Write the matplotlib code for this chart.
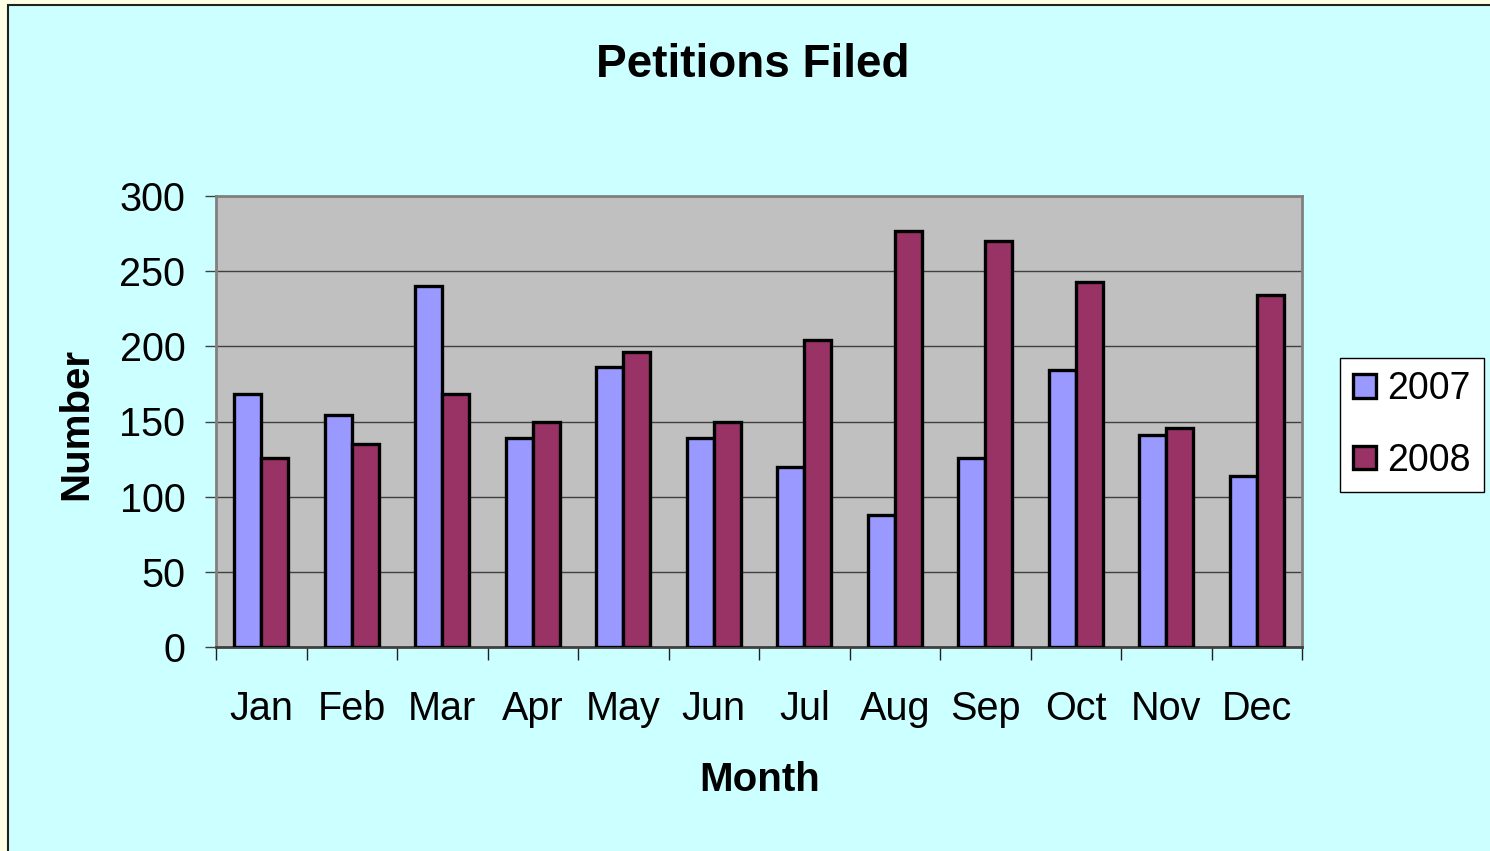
import matplotlib
matplotlib.use('Agg')
import matplotlib.pyplot as plt
import numpy as np
from matplotlib.patches import Rectangle

plt.rcParams['font.family'] = ['Liberation Sans', 'DejaVu Sans']

months = ['Jan', 'Feb', 'Mar', 'Apr', 'May', 'Jun', 'Jul', 'Aug', 'Sep', 'Oct', 'Nov', 'Dec']
petitions_2007 = [168, 154, 240, 139, 186, 139, 120, 88, 126, 184, 141, 114]
petitions_2008 = [126, 135, 168, 150, 196, 150, 204, 277, 270, 243, 146, 234]
yticks = [0, 50, 100, 150, 200, 250, 300]

W, H = 1490, 851
fig = plt.figure(figsize=(W / 100, H / 100), dpi=100)
fig.patch.set_facecolor('#FFFFE6')

# cyan chart area with dark border
fig.patches.append(Rectangle((8 / W, -0.01), 1.0, 1 - 5 / H + 0.01,
                             transform=fig.transFigure, facecolor='#CCFFFF',
                             edgecolor='#202020', linewidth=1.5, zorder=-5))

ax = fig.add_axes([216 / W, 1 - 647 / H, (1302 - 216) / W, (647 - 196) / H])
ax.set_facecolor('#C0C0C0')

x = np.arange(len(months))
w = 0.3
ax.bar(x - w / 2, petitions_2007, w, color='#9999FF', edgecolor='black',
       linewidth=2.4, label='2007', zorder=3)
ax.bar(x + w / 2, petitions_2008, w, color='#993366', edgecolor='black',
       linewidth=2.4, label='2008', zorder=3)

ax.set_xlim(-0.5, len(months) - 0.5)
ax.set_ylim(0, 300)
ax.set_yticks(yticks)
ax.yaxis.grid(True, color='#404040', linewidth=1, zorder=1)
ax.set_axisbelow(True)

ax.set_xticks(x)
ax.set_xticklabels(months, fontsize=28.5)
ax.set_xticks(np.arange(-0.5, len(months)), minor=True)
ax.tick_params(axis='x', which='major', length=0, pad=31)
ax.tick_params(axis='x', which='minor', length=9, width=1, color='#202020', direction='out')
ax.tick_params(axis='y', labelsize=28.5, length=8, width=1, color='#404040', pad=14)

for side in ['top', 'right', 'left', 'bottom']:
    ax.spines[side].set_color('#808080')
    ax.spines[side].set_linewidth(2)
ax.spines['bottom'].set_color('#404040')

fig.text(753 / W, 1 - 65 / H, 'Petitions Filed', fontsize=33, fontweight='bold',
         ha='center', va='center')
fig.text(760 / W, 1 - 780 / H, 'Month', fontsize=29, fontweight='bold',
         ha='center', va='center')
fig.text(76 / W, 1 - 424 / H, 'Number', fontsize=29, fontweight='bold',
         ha='center', va='center', rotation=90)

leg = fig.legend(loc='upper left', bbox_to_anchor=(1340 / W, 1 - 358 / H),
                 fontsize=27, handlelength=0.6, handleheight=0.6,
                 handletextpad=0.3, borderpad=0.35, labelspacing=0.95,
                 fancybox=False, framealpha=1, borderaxespad=0)
leg.get_frame().set_edgecolor('black')
leg.get_frame().set_linewidth(1)

fig.savefig('out.png', dpi=100, facecolor=fig.get_facecolor())
